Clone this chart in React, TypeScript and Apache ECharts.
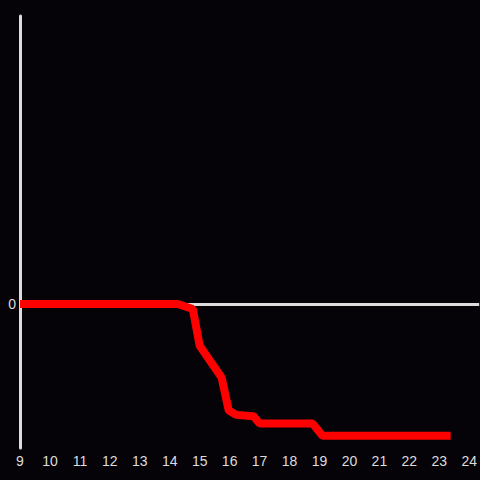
import React, { useEffect, useRef } from "react";
import * as echarts from "echarts";

const xValues = [9, 14.27, 14.77, 15.0, 15.73, 15.97, 16.23, 16.8, 17.0, 18.77, 19.1, 23.38];
const yValues = [0, 0, -0.035, -0.29, -0.51, -0.74, -0.77, -0.78, -0.83, -0.83, -0.915, -0.915];
const xTicks = { min: 9, max: 24.333, interval: 1 };
const yTicks = { min: -1, max: 2, interval: 1 };

export default function App() {
  const ref = useRef<HTMLDivElement>(null);
  useEffect(() => {
    if (!ref.current) return;
    const chart = echarts.init(ref.current, null, { renderer: "svg" });
    const data = xValues.map((x, i) => [x, yValues[i]]);
    chart.setOption({
      animation: false,
      backgroundColor: "#050308",
      grid: { left: 20, right: 0, top: 16, bottom: 32 },
      xAxis: {
        type: "value",
        min: xTicks.min,
        max: xTicks.max,
        interval: xTicks.interval,
        axisLine: { show: false, onZero: false },
        axisTick: { show: false },
        splitLine: { show: false },
        axisLabel: { color: "#dddddd", fontSize: 14, margin: 6, fontFamily: "Liberation Sans" },
      },
      yAxis: {
        type: "value",
        min: yTicks.min,
        max: yTicks.max,
        interval: yTicks.interval,
        axisLine: { show: true, lineStyle: { color: "#dddddd", width: 3 } },
        axisTick: { show: false },
        splitLine: { show: false },
        axisLabel: {
          color: "#dddddd",
          fontSize: 14,
          margin: 4,
          fontFamily: "Liberation Sans",
          formatter: (v: number) => (v === 0 ? "0" : ""),
        },
      },
      series: [
        {
          type: "line",
          data,
          symbol: "none",
          lineStyle: { color: "#ff0000", width: 8 },
          markLine: {
            silent: true,
            symbol: "none",
            label: { show: false },
            lineStyle: { color: "#dddddd", width: 3, type: "solid" },
            data: [{ yAxis: 0 }],
            z: 1,
          },
          z: 3,
        },
      ],
    });
    return () => chart.dispose();
  }, []);
  return (
    <div
      ref={ref}
      style={{ position: "fixed", left: 0, top: 0, width: 480, height: 480 }}
    />
  );
}
